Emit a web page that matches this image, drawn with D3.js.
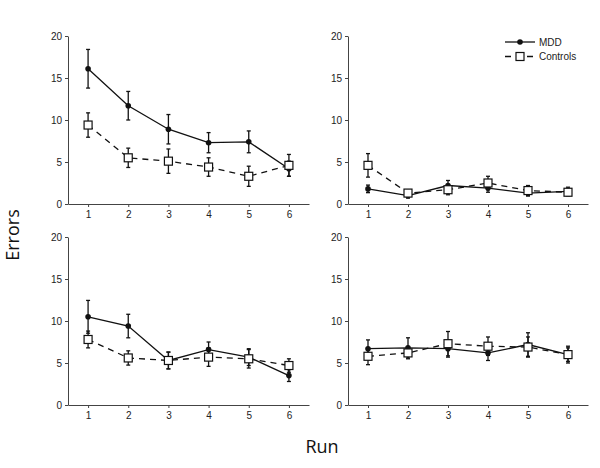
<!DOCTYPE html>
<html><head><meta charset="utf-8">
<script src="https://cdn.jsdelivr.net/npm/d3@7"></script>
<style>body{margin:0;background:#fff}svg{display:block}</style>
</head><body>
<script>
const runs = [1, 2, 3, 4, 5, 6];
const yTicks = [0, 5, 10, 15, 20];
const seriesNames = ["MDD", "Controls"];
// panel order: top-left, top-right, bottom-left, bottom-right
const mddMean = [
  [16.1, 11.7, 8.9, 7.3, 7.4, 4.2],
  [1.8, 1.0, 2.2, 1.9, 1.3, 1.5],
  [10.5, 9.4, 5.3, 6.6, 5.7, 3.5],
  [6.7, 6.8, 6.7, 6.2, 7.2, 6.0]
];
const mddErr = [
  [2.3, 1.7, 1.75, 1.2, 1.3, 0.9],
  [0.45, 0.3, 0.6, 0.5, 0.35, 0.5],
  [1.95, 1.4, 1.0, 0.9, 1.0, 0.7],
  [1.05, 1.2, 1.0, 0.9, 1.4, 0.8]
];
const ctlMean = [
  [9.4, 5.5, 5.1, 4.4, 3.3, 4.6],
  [4.6, 1.3, 1.7, 2.5, 1.6, 1.4],
  [7.8, 5.6, 5.3, 5.7, 5.5, 4.7],
  [5.8, 6.2, 7.3, 7.0, 6.9, 6.0]
];
const ctlErr = [
  [1.45, 1.15, 1.45, 1.1, 1.2, 1.3],
  [1.4, 0.35, 0.6, 0.8, 0.6, 0.4],
  [1.0, 0.85, 1.0, 1.1, 1.1, 0.8],
  [1.0, 0.7, 1.45, 1.1, 1.2, 1.0]
];

const W = 600, H = 468;
const svg = d3.select("body").append("svg").attr("width", W).attr("height", H);
const font = "'Liberation Sans', Arial, sans-serif";
const axisColor = "#444";

const panels = [
  {x0: 68, x1: 309, y0: 204, y1: 36},
  {x0: 348, x1: 588, y0: 204, y1: 36},
  {x0: 68, x1: 309, y0: 405, y1: 237},
  {x0: 348, x1: 588, y0: 405, y1: 237}
];

panels.forEach((p, i) => {
  const x = d3.scaleLinear().domain([0.5, 6.5]).range([p.x0, p.x1]);
  const y = d3.scaleLinear().domain([0, 20]).range([p.y0, p.y1]);
  const g = svg.append("g");

  const xa = g.append("g").attr("transform", `translate(0,${p.y0})`)
    .call(d3.axisBottom(x).tickValues(runs).tickFormat(d3.format("d")).tickSize(3).tickPadding(4).tickSizeOuter(0));
  const ya = g.append("g").attr("transform", `translate(${p.x0},0)`)
    .call(d3.axisLeft(y).tickValues(yTicks).tickFormat(d3.format("d")).tickSize(3).tickPadding(3).tickSizeOuter(0));
  [xa, ya].forEach(a => {
    a.select(".domain").attr("stroke", axisColor).attr("stroke-width", 1);
    a.selectAll(".tick line").attr("stroke", axisColor);
    a.selectAll("text").attr("font-family", font).attr("font-size", 10).attr("fill", "#222");
  });

  const mdd = runs.map((r, k) => ({r, m: mddMean[i][k], e: mddErr[i][k]}));
  const ctl = runs.map((r, k) => ({r, m: ctlMean[i][k], e: ctlErr[i][k]}));

  const drawErr = (data) => {
    const eg = g.append("g").attr("stroke", "#111").attr("stroke-width", 1.3);
    data.forEach(d => {
      const cx = x(d.r);
      eg.append("line").attr("x1", cx).attr("x2", cx).attr("y1", y(d.m - d.e)).attr("y2", y(d.m + d.e));
      eg.append("line").attr("x1", cx - 2).attr("x2", cx + 2).attr("y1", y(d.m - d.e)).attr("y2", y(d.m - d.e));
      eg.append("line").attr("x1", cx - 2).attr("x2", cx + 2).attr("y1", y(d.m + d.e)).attr("y2", y(d.m + d.e));
    });
  };
  drawErr(mdd);
  drawErr(ctl);

  const line = d3.line().x(d => x(d.r)).y(d => y(d.m));
  g.append("path").datum(mdd).attr("d", line).attr("fill", "none").attr("stroke", "#111").attr("stroke-width", 1.3);
  g.append("path").datum(ctl).attr("d", line).attr("fill", "none").attr("stroke", "#111").attr("stroke-width", 1.3)
    .attr("stroke-dasharray", "6,5");

  g.selectAll("circle.mdd").data(mdd).enter().append("circle")
    .attr("cx", d => x(d.r)).attr("cy", d => y(d.m)).attr("r", 2.8).attr("fill", "#111");
  g.selectAll("rect.ctl").data(ctl).enter().append("rect")
    .attr("x", d => x(d.r) - 4).attr("y", d => y(d.m) - 4).attr("width", 8).attr("height", 8)
    .attr("fill", "#fff").attr("stroke", "#111").attr("stroke-width", 1.2);
});

// legend
const lg = svg.append("g");
lg.append("line").attr("x1", 505).attr("x2", 535).attr("y1", 42).attr("y2", 42).attr("stroke", "#111").attr("stroke-width", 1.3);
lg.append("circle").attr("cx", 520).attr("cy", 42).attr("r", 2.8).attr("fill", "#111");
lg.append("text").attr("x", 539).attr("y", 45.5).text(seriesNames[0]).attr("font-family", font).attr("font-size", 10).attr("fill", "#222");
lg.append("line").attr("x1", 505).attr("x2", 535).attr("y1", 56.5).attr("y2", 56.5).attr("stroke", "#111").attr("stroke-width", 1.3).attr("stroke-dasharray", "6,5");
lg.append("rect").attr("x", 516).attr("y", 52.5).attr("width", 8).attr("height", 8).attr("fill", "#fff").attr("stroke", "#111").attr("stroke-width", 1.2);
lg.append("text").attr("x", 539).attr("y", 60).text(seriesNames[1]).attr("font-family", font).attr("font-size", 10).attr("fill", "#222");

svg.append("text").attr("transform", "translate(19,235) rotate(-90)").attr("text-anchor", "middle")
  .attr("font-family", "'Open Sans', sans-serif").attr("font-size", 18).attr("fill", "#111").text("Errors");
svg.append("text").attr("x", 322).attr("y", 453).attr("text-anchor", "middle")
  .attr("font-family", "'Open Sans', sans-serif").attr("font-size", 18).attr("fill", "#111").text("Run");
</script>
</body></html>
